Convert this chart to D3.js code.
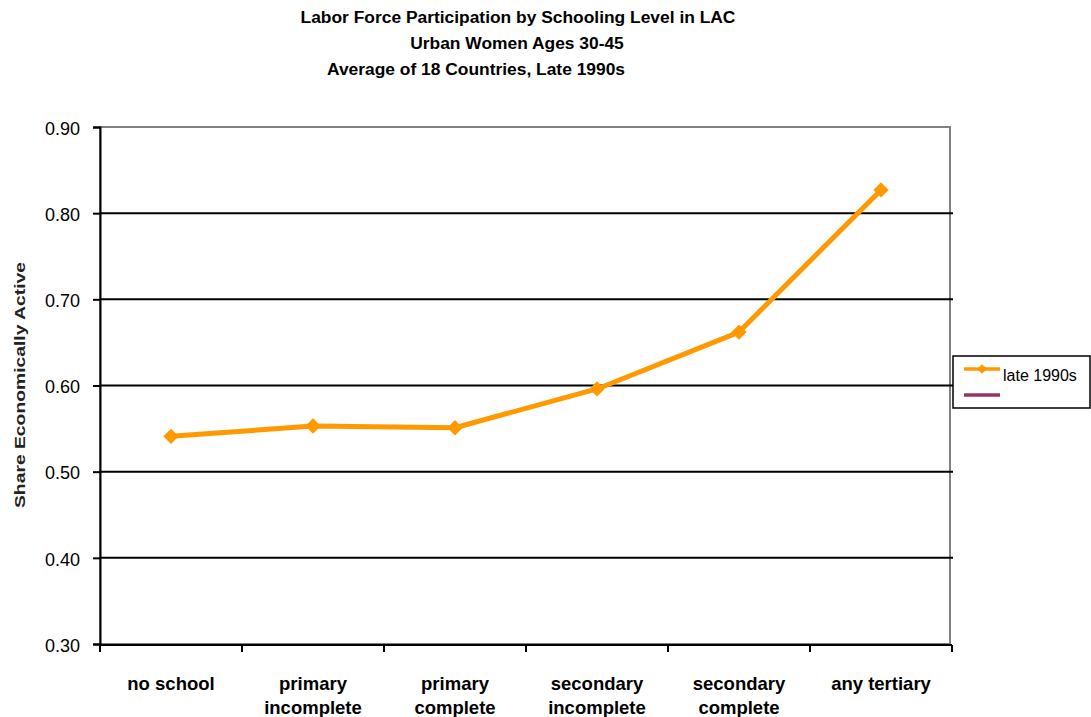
<!DOCTYPE html>
<html><head><meta charset="utf-8">
<script src="https://cdn.jsdelivr.net/npm/d3@7"></script>
<style>body{margin:0;background:#fff}svg{display:block}text{font-family:"Liberation Sans",Arial,sans-serif}</style>
</head><body>
<script>
const categories = [["no school"],["primary","incomplete"],["primary","complete"],["secondary","incomplete"],["secondary","complete"],["any tertiary"]];
const late1990s = [0.541, 0.553, 0.551, 0.596, 0.662, 0.827];
const yTicks = [0.30,0.40,0.50,0.60,0.70,0.80,0.90];
const titleLines = ["Labor Force Participation by Schooling Level in LAC","Urban Women Ages 30-45","Average of 18 Countries, Late 1990s"];
const seriesName = "late 1990s";

const W=1091,H=717;
const svg=d3.select("body").append("svg").attr("width",W).attr("height",H);
const L=100,R=950,T=127,B=644;
const x=d3.scaleBand().domain(d3.range(categories.length)).range([L,R+2]);
const y=d3.scaleLinear().domain([0.3,0.9]).range([B,T]);

// titles
const tx=[518,517,476], ty=[23,49,75];
titleLines.forEach((t,i)=>svg.append("text").attr("x",tx[i]).attr("y",ty[i]).attr("text-anchor","middle")
  .attr("font-size",17.4).attr("font-weight","bold").text(t));

// plot border (gray)
svg.append("rect").attr("x",L).attr("y",T).attr("width",R-L).attr("height",B-T)
  .attr("fill","none").attr("stroke","#808080").attr("stroke-width",2);

// gridlines
svg.append("g").selectAll("line").data(yTicks.slice(1,-1)).join("line")
  .attr("x1",L).attr("x2",R+3).attr("y1",d=>y(d)).attr("y2",d=>y(d))
  .attr("stroke","#000").attr("stroke-width",2);

// y axis
const ya=svg.append("g").attr("transform",`translate(${L},0)`)
  .call(d3.axisLeft(y).tickValues(yTicks).tickFormat(d3.format(".2f")).tickSize(7).tickPadding(13));
ya.select(".domain").attr("stroke","#000").attr("stroke-width",2);
ya.selectAll(".tick line").attr("stroke","#000").attr("stroke-width",2);
ya.selectAll(".tick text").attr("font-size",18).attr("font-family","Liberation Sans, Arial, sans-serif").attr("fill","#000").attr("dy","0.4em");

// x axis
const xa=svg.append("g").attr("transform",`translate(0,${B+1})`);
xa.append("line").attr("x1",L).attr("x2",R+2).attr("stroke","#000").attr("stroke-width",2);
const bounds=d3.range(categories.length+1).map(i=>i<categories.length?x(i):x(categories.length-1)+x.bandwidth());
xa.selectAll("line.t").data(bounds).join("line").attr("class","t")
  .attr("x1",d=>d).attr("x2",d=>d).attr("y1",0).attr("y2",7).attr("stroke","#000").attr("stroke-width",2);
categories.forEach((c,i)=>{
  const t=svg.append("text").attr("text-anchor","middle").attr("font-size",18.5).attr("font-weight","bold");
  c.forEach((ln,j)=>t.append("tspan").attr("x",x(i)+x.bandwidth()/2).attr("y",690+j*24).text(ln));
});

// y label
svg.append("text").attr("transform","translate(25,385) rotate(-90)").attr("text-anchor","middle")
  .attr("font-size",15).attr("font-weight","bold").attr("fill","#222").attr("textLength",246)
  .attr("lengthAdjust","spacingAndGlyphs").text("Share Economically Active");

// line
const cx=i=>x(i)+x.bandwidth()/2;
svg.append("path").datum(late1990s).attr("fill","none").attr("stroke","#FF9900").attr("stroke-width",5)
  .attr("stroke-linejoin","round")
  .attr("d",d3.line().x((d,i)=>cx(i)).y(d=>y(d)));
const diamond=d3.symbol().type(d3.symbolDiamond2).size(150);
svg.append("g").selectAll("path").data(late1990s).join("path")
  .attr("transform",(d,i)=>`translate(${cx(i)},${y(d)})`).attr("d",diamond).attr("fill","#FF9900");

// legend
const lg=svg.append("g");
lg.append("rect").attr("x",953).attr("y",356).attr("width",137).attr("height",52).attr("fill","#fff").attr("stroke","#000").attr("stroke-width",1.5);
lg.append("line").attr("x1",964).attr("x2",1000).attr("y1",369).attr("y2",369).attr("stroke","#FF9900").attr("stroke-width",3.5);
lg.append("path").attr("transform","translate(982,369)").attr("d",d3.symbol().type(d3.symbolDiamond2).size(60)).attr("fill","#FF9900");
lg.append("line").attr("x1",964).attr("x2",1000).attr("y1",395).attr("y2",395).attr("stroke","#993366").attr("stroke-width",3.5);
lg.append("text").attr("x",1003).attr("y",381).attr("font-size",16).text(seriesName);
</script>
</body></html>
